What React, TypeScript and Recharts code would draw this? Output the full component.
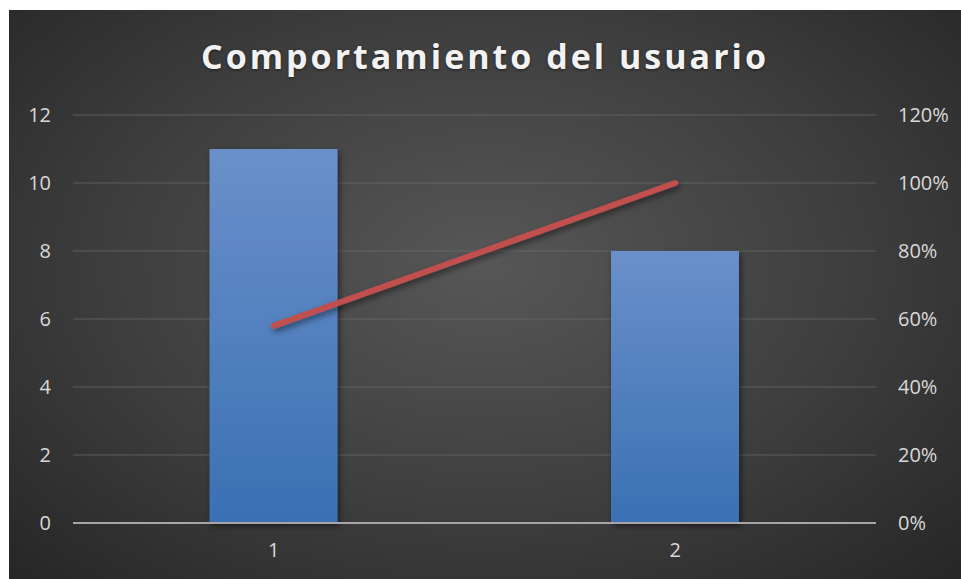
import React from 'react';
import { ComposedChart, Bar, Line, XAxis, YAxis, CartesianGrid } from 'recharts';

// values (pareto-style: count + cumulative share)
const categories = ['1', '2'];
const counts = [11, 8];
const cumulative = [0.58, 1.0];
const leftTicks = [0, 2, 4, 6, 8, 10, 12];
const rightTicks = [0, 0.2, 0.4, 0.6, 0.8, 1.0, 1.2];

const data = categories.map((name, i) => ({ name, count: counts[i], cum: cumulative[i] }));

const tickStyle = { fill: '#d9d9d9', fontSize: 20, fontFamily: 'Open Sans, sans-serif' };

const App: React.FC = () => {
  return (
    <div>
      <style>{'body{margin:0;overflow:hidden}'}</style>
      <div
        style={{
          position: 'relative',
          margin: '10px 0 0 9px',
          width: 952,
          height: 569,
          background: 'radial-gradient(ellipse at 50% 45%, #575757 0%, #3e3e3e 55%, #262626 100%)',
        }}
      >
        <div
          style={{
            position: 'absolute',
            top: 23,
            left: 0,
            width: 952,
            textAlign: 'center',
            color: '#f2f2f2',
            fontFamily: 'Open Sans, sans-serif',
            fontWeight: 700,
            fontSize: 34,
            letterSpacing: 3,
            textShadow: '0 1px 3px rgba(0,0,0,0.5)',
          }}
        >
          Comportamiento del usuario
        </div>
        <ComposedChart
          width={952}
          height={569}
          data={data}
          margin={{ top: 105, right: 0, bottom: 26, left: 0 }}
          barCategoryGap="34%"
        >
          <defs>
            <linearGradient id="barFill" x1="0" y1="0" x2="0" y2="1">
              <stop offset="0%" stopColor="#6a90c9" />
              <stop offset="100%" stopColor="#3a70b4" />
            </linearGradient>
            <filter id="shadow" x="-20%" y="-20%" width="140%" height="140%">
              <feDropShadow dx="2" dy="3" stdDeviation="3" floodColor="#000" floodOpacity="0.5" />
            </filter>
          </defs>
          <CartesianGrid yAxisId="left" vertical={false} stroke="#6e6e6e" strokeOpacity={0.7} />
          <XAxis
            dataKey="name"
            height={30}
            axisLine={{ stroke: '#a6a6a6', strokeWidth: 2 }}
            tickLine={false}
            tickSize={0}
            tickMargin={20}
            tick={tickStyle}
          />
          <YAxis
            yAxisId="left"
            orientation="left"
            width={64}
            domain={[0, 12]}
            ticks={leftTicks}
            axisLine={false}
            tickLine={false}
            tickSize={0}
            tickMargin={22}
            tick={tickStyle}
          />
          <YAxis
            yAxisId="right"
            orientation="right"
            width={85}
            domain={[0, 1.2]}
            ticks={rightTicks}
            axisLine={false}
            tickLine={false}
            tickSize={0}
            tickMargin={22}
            tick={{ ...tickStyle, textAnchor: 'start' }}
            tickFormatter={(v: number) => `${Math.round(v * 100)}%`}
          />
          <Bar
            yAxisId="left"
            dataKey="count"
            fill="url(#barFill)"
            filter="url(#shadow)"
            isAnimationActive={false}
          />
          <Line
            yAxisId="right"
            dataKey="cum"
            stroke="#c0504d"
            strokeWidth={6}
            strokeLinecap="round"
            dot={false}
            activeDot={false}
            filter="url(#shadow)"
            isAnimationActive={false}
          />
        </ComposedChart>
      </div>
    </div>
  );
};

export default App;
